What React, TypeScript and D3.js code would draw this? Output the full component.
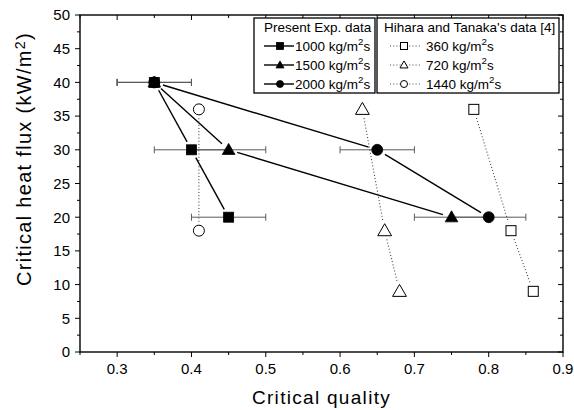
import React from 'react';
import * as d3 from 'd3';

// Present experimental data (heat flux levels, critical quality per mass flux)
const heatFlux = [40, 30, 20];
const quality1000 = [0.35, 0.40, 0.45];
const quality1500 = [0.35, 0.45, 0.75];
const quality2000 = [0.35, 0.65, 0.80];
const qualityError = [0.05, 0.05, 0.05];

// Hihara and Tanaka's data
const hiharaFlux360 = [36, 18, 9];
const hiharaQuality360 = [0.78, 0.83, 0.86];
const hiharaFlux720 = [36, 18, 9];
const hiharaQuality720 = [0.63, 0.66, 0.68];
const hiharaFlux1440 = [36, 18];
const hiharaQuality1440 = [0.41, 0.41];

const xTicks = [0.3, 0.4, 0.5, 0.6, 0.7, 0.8, 0.9];
const xMinorTicks = [0.25, 0.35, 0.45, 0.55, 0.65, 0.75, 0.85];
const yTicks = [0, 5, 10, 15, 20, 25, 30, 35, 40, 45, 50];
const yMinorTicks = [2.5, 7.5, 12.5, 17.5, 22.5, 27.5, 32.5, 37.5, 42.5, 47.5];

const W = 574, H = 410;
const L = 80, R = 563, T = 15, B = 352;
const FONT = "'Liberation Sans', Arial, sans-serif";

type Shape = 'square' | 'triangle' | 'circle';

function Marker({ shape, cx, cy, size, filled }: { shape: Shape; cx: number; cy: number; size: number; filled: boolean }) {
  const fill = filled ? '#000' : '#fff';
  const stroke = '#000';
  const sw = filled ? 0.8 : 1;
  if (shape === 'square') {
    return <rect x={cx - size / 2} y={cy - size / 2} width={size} height={size} fill={fill} stroke={stroke} strokeWidth={sw} />;
  }
  if (shape === 'circle') {
    return <circle cx={cx} cy={cy} r={size / 2} fill={fill} stroke={stroke} strokeWidth={sw} />;
  }
  const w = size * 1.15;
  const h = size;
  const pts = [[cx, cy - h * 0.58], [cx + w / 2, cy + h * 0.42], [cx - w / 2, cy + h * 0.42]];
  return <polygon points={pts.map(p => p.join(',')).join(' ')} fill={fill} stroke={stroke} strokeWidth={sw} strokeLinejoin="miter" />;
}

function gapSegment(x1: number, y1: number, x2: number, y2: number, g: number) {
  const dx = x2 - x1, dy = y2 - y1;
  const len = Math.sqrt(dx * dx + dy * dy);
  if (len <= 2 * g) return null;
  const ux = dx / len, uy = dy / len;
  return [x1 + ux * g, y1 + uy * g, x2 - ux * g, y2 - uy * g];
}

function Sup({ base, sup, after }: { base: string; sup: string; after: string }) {
  return (
    <>
      {base}
      <tspan dy={-6} fontSize="72%">{sup}</tspan>
      <tspan dy={6}>{after}</tspan>
    </>
  );
}

export default function App() {
  const x = d3.scaleLinear().domain([0.25, 0.9]).range([L, R]);
  const y = d3.scaleLinear().domain([0, 50]).range([B, T]);

  const present = [
    { q: quality1000, shape: 'square' as Shape, size: 10, label: '1000' },
    { q: quality1500, shape: 'triangle' as Shape, size: 11, label: '1500' },
    { q: quality2000, shape: 'circle' as Shape, size: 11, label: '2000' },
  ];
  const hihara = [
    { q: hiharaQuality360, f: hiharaFlux360, shape: 'square' as Shape, size: 10, label: '360' },
    { q: hiharaQuality720, f: hiharaFlux720, shape: 'triangle' as Shape, size: 12, label: '720' },
    { q: hiharaQuality1440, f: hiharaFlux1440, shape: 'circle' as Shape, size: 11, label: '1440' },
  ];

  const lines: JSX.Element[] = [];
  present.forEach((s, si) => {
    for (let i = 0; i < s.q.length - 1; i++) {
      const seg = gapSegment(x(s.q[i]), y(heatFlux[i]), x(s.q[i + 1]), y(heatFlux[i + 1]), 9);
      if (seg) lines.push(<line key={`p${si}-${i}`} x1={seg[0]} y1={seg[1]} x2={seg[2]} y2={seg[3]} stroke="#000" strokeWidth={1.4} />);
    }
  });
  hihara.forEach((s, si) => {
    for (let i = 0; i < s.q.length - 1; i++) {
      const seg = gapSegment(x(s.q[i]), y(s.f[i]), x(s.q[i + 1]), y(s.f[i + 1]), 9);
      if (seg) lines.push(<line key={`h${si}-${i}`} x1={seg[0]} y1={seg[1]} x2={seg[2]} y2={seg[3]} stroke="#444" strokeWidth={1.1} strokeDasharray="1 2.2" />);
    }
  });

  const errorBars: JSX.Element[] = [];
  present.forEach((s, si) => {
    s.q.forEach((q, i) => {
      const e = qualityError[i];
      const yy = y(heatFlux[i]);
      errorBars.push(
        <g key={`e${si}-${i}`} stroke="#5a5a5a" strokeWidth={1}>
          <line x1={x(q - e)} x2={x(q + e)} y1={yy} y2={yy} />
          <line x1={x(q - e)} x2={x(q - e)} y1={yy - 3.5} y2={yy + 3.5} />
          <line x1={x(q + e)} x2={x(q + e)} y1={yy - 3.5} y2={yy + 3.5} />
        </g>
      );
    });
  });

  return (
    <svg width={W} height={H} style={{ position: 'absolute', left: 0, top: 0, background: '#fff' }} fontFamily={FONT}>
      <rect x={0} y={0} width={W} height={H} fill="#fff" />
      {/* ticks */}
      <g stroke="#000" strokeWidth={1}>
        {xTicks.map(t => (
          <g key={`xt${t}`}>
            <line x1={x(t)} x2={x(t)} y1={B} y2={B + 5} />
            <line x1={x(t)} x2={x(t)} y1={T} y2={T + 5} />
          </g>
        ))}
        {xMinorTicks.map(t => (
          <g key={`xm${t}`}>
            <line x1={x(t)} x2={x(t)} y1={B} y2={B + 3} />
            <line x1={x(t)} x2={x(t)} y1={T} y2={T + 3} />
          </g>
        ))}
        {yTicks.map(t => (
          <g key={`yt${t}`}>
            <line x1={L - 5} x2={L} y1={y(t)} y2={y(t)} />
            <line x1={R - 5} x2={R} y1={y(t)} y2={y(t)} />
          </g>
        ))}
        {yMinorTicks.map(t => (
          <g key={`ym${t}`}>
            <line x1={L - 3} x2={L} y1={y(t)} y2={y(t)} />
            <line x1={R - 3} x2={R} y1={y(t)} y2={y(t)} />
          </g>
        ))}
      </g>
      <rect x={L} y={T} width={R - L} height={B - T} fill="none" stroke="#000" strokeWidth={1.4} />
      {/* tick labels */}
      <g fontSize={15} fill="#000">
        {xTicks.map(t => (
          <text key={`xl${t}`} x={x(t)} y={B + 22} textAnchor="middle">{d3.format('.1f')(t)}</text>
        ))}
        {yTicks.map(t => (
          <text key={`yl${t}`} x={L - 10} y={y(t) + 5.3} textAnchor="end">{t}</text>
        ))}
      </g>
      {/* axis titles */}
      <text x={(L + R) / 2} y={404} textAnchor="middle" fontSize={19} letterSpacing={1.3}>Critical quality</text>
      <text transform={`translate(31, 159) rotate(-90)`} textAnchor="middle" fontSize={20} letterSpacing={1.3}>
        <Sup base="Critical heat flux (kW/m" sup="2" after=")" />
      </text>

      {errorBars}
      {lines}
      {present.map((s, si) => s.q.map((q, i) => (
        <Marker key={`pm${si}-${i}`} shape={s.shape} cx={x(q)} cy={y(heatFlux[i])} size={s.size} filled />
      )))}
      {hihara.map((s, si) => s.q.map((q, i) => (
        <Marker key={`hm${si}-${i}`} shape={s.shape} cx={x(q)} cy={y(s.f[i])} size={s.size} filled={false} />
      )))}

      {/* legend 1 */}
      <g>
        <rect x={254} y={18} width={121} height={75} fill="#fff" stroke="#000" strokeWidth={1.3} />
        <text x={264} y={32} fontSize={13.5}>Present Exp. data</text>
        {present.map((s, i) => {
          const yy = 46 + i * 19;
          return (
            <g key={`lg1${i}`}>
              <line x1={264} x2={294} y1={yy} y2={yy} stroke="#000" strokeWidth={1.4} />
              <Marker shape={s.shape} cx={280} cy={yy} size={7} filled />
              <text x={295} y={yy + 5} fontSize={13.5}>
                <Sup base={`${s.label} kg/m`} sup="2" after="s" />
              </text>
            </g>
          );
        })}
      </g>
      {/* legend 2 */}
      <g>
        <rect x={377} y={18} width={182} height={75} fill="#fff" stroke="#000" strokeWidth={1.3} />
        <text x={384} y={32} fontSize={13.5}>Hihara and Tanaka's data [4]</text>
        {hihara.map((s, i) => {
          const yy = 46 + i * 19;
          return (
            <g key={`lg2${i}`}>
              <line x1={390} x2={422} y1={yy} y2={yy} stroke="#444" strokeWidth={1} strokeDasharray="1 2.2" />
              <Marker shape={s.shape} cx={404} cy={yy} size={7} filled={false} />
              <text x={426} y={yy + 5} fontSize={13.5}>
                <Sup base={`${s.label} kg/m`} sup="2" after="s" />
              </text>
            </g>
          );
        })}
      </g>
    </svg>
  );
}
